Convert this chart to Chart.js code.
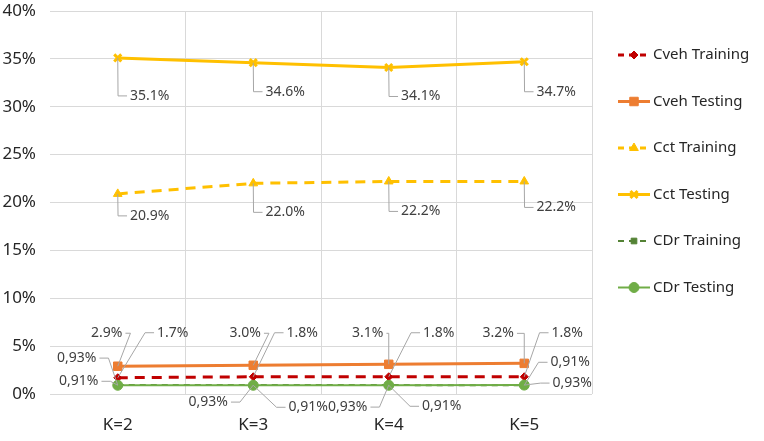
<!DOCTYPE html>
<html>
<head>
<meta charset="utf-8">
<script src="https://cdn.jsdelivr.net/npm/chart.js@4.4.0/dist/chart.umd.min.js"></script>
<style>
  html, body { margin: 0; padding: 0; background: #fff; }
  #wrap { width: 764px; height: 441px; }
</style>
</head>
<body>
<div id="wrap"><canvas id="chart" width="764" height="441"></canvas></div>
<script>
// data
const categories = ["K=2", "K=3", "K=4", "K=5"];
const seriesNames = ["Cveh Training", "Cveh Testing", "Cct Training", "Cct Testing", "CDr Training", "CDr Testing"];
const cvehTraining = [1.7, 1.8, 1.8, 1.8];
const cvehTesting = [2.9, 3.0, 3.1, 3.2];
const cctTraining = [20.9, 22.0, 22.2, 22.2];
const cctTesting = [35.1, 34.6, 34.1, 34.7];
const cdrTraining = [0.93, 0.93, 0.93, 0.91];
const cdrTesting = [0.91, 0.91, 0.91, 0.93];
const yTicks = [0, 5, 10, 15, 20, 25, 30, 35, 40];

const FONT = "'Noto Sans', 'Open Sans', sans-serif";

// where each callout sits relative to its point (px)
const labelOffsets = [
  [[55, -45], [49, -44], [50, -44], [43, -44]],
  [[-11, -33], [-8, -32], [-21, -31], [-26, -30]],
  [[32, 22], [32, 29], [32, 30], [32, 26]],
  [[32, 38], [32, 29], [32, 29], [32, 30]],
  [[-41, -27], [-45, 17], [-41, 22], [46, -23]],
  [[-39, -4], [55, 22], [53, 21], [48, -2]]
];

function fmt(i, v) {
  if (i >= 4) return v.toFixed(2).replace(".", ",") + "%";
  return v.toFixed(1) + "%";
}

// Excel-like data callouts with leader lines
const calloutPlugin = {
  id: "callouts",
  afterDatasetsDraw(chart) {
    const ctx = chart.ctx;
    ctx.save();
    ctx.font = "14px " + FONT;
    ctx.textBaseline = "middle";
    ctx.textAlign = "center";
    chart.data.datasets.forEach((ds, i) => {
      const meta = chart.getDatasetMeta(i);
      meta.data.forEach((p, j) => {
        const [dx, dy] = labelOffsets[i][j];
        const text = fmt(i, ds.data[j]);
        const w = ctx.measureText(text).width;
        const cx = p.x + dx, cy = p.y + dy;
        let ax, ex;
        if (dx > 0) {
          ax = cx - w / 2 - 3;
          ex = Math.max(ax - 9, p.x);
        } else {
          ax = cx + w / 2 + 3;
          ex = dx < -w / 2 - 4 ? Math.min(ax + 9, p.x) : ax + 5;
        }
        ctx.strokeStyle = "#a6a6a6";
        ctx.lineWidth = 1;
        ctx.beginPath();
        ctx.moveTo(ax, cy);
        ctx.lineTo(ex, cy);
        ctx.lineTo(p.x, p.y);
        ctx.stroke();
        ctx.fillStyle = "#404040";
        ctx.fillText(text, cx, cy);
      });
    });
    ctx.restore();
  }
};

// legend on the right: line with marker in the middle
const legendPlugin = {
  id: "sideLegend",
  afterDraw(chart) {
    const ctx = chart.ctx;
    ctx.save();
    chart.data.datasets.forEach((ds, i) => {
      const y = 55 + i * 46.5;
      const x0 = 618, x1 = 650, xm = 634;
      ctx.strokeStyle = ds.borderColor;
      ctx.lineWidth = ds.borderWidth;
      ctx.setLineDash(ds.borderDash ? [6, 5] : []);
      ctx.beginPath();
      ctx.moveTo(x0, y);
      ctx.lineTo(x1, y);
      ctx.stroke();
      ctx.setLineDash([]);
      ctx.fillStyle = ds.pointBackgroundColor;
      ctx.strokeStyle = ds.pointBorderColor;
      ctx.lineWidth = ds.pointBorderWidth;
      Chart.helpers.drawPoint(ctx, {
        pointStyle: ds.pointStyle,
        radius: ds.pointRadius,
        borderWidth: ds.pointBorderWidth
      }, xm, y);
      ctx.fillStyle = "#262626";
      ctx.font = "15px " + FONT;
      ctx.textBaseline = "middle";
      ctx.textAlign = "left";
      ctx.fillText(seriesNames[i], 653, y);
    });
    ctx.restore();
  }
};

function series(i, data, color, opts) {
  return Object.assign({
    label: seriesNames[i],
    data: data,
    borderColor: color,
    backgroundColor: color,
    pointBackgroundColor: color,
    pointBorderColor: color,
    borderWidth: 3,
    pointBorderWidth: 1,
    tension: 0
  }, opts);
}

const datasets = [
  series(0, cvehTraining, "#c00000", { borderDash: [10, 7], pointStyle: "rectRot", pointRadius: 4 }),
  series(1, cvehTesting, "#ed7d31", { pointStyle: "rect", pointRadius: 6 }),
  series(2, cctTraining, "#ffc000", { borderDash: [10, 7], pointStyle: "triangle", pointRadius: 5 }),
  series(3, cctTesting, "#ffc000", { pointStyle: "crossRot", pointRadius: 5, pointBorderWidth: 3 }),
  series(4, cdrTraining, "#548235", { borderDash: [6, 5], borderWidth: 2, pointStyle: "rect", pointRadius: 4 }),
  series(5, cdrTesting, "#70ad47", { borderWidth: 2, pointStyle: "circle", pointRadius: 5, order: -1 })
];

new Chart(document.getElementById("chart"), {
  type: "line",
  data: { labels: categories, datasets: datasets },
  plugins: [calloutPlugin, legendPlugin],
  options: {
    responsive: false,
    animation: false,
    layout: { padding: { top: 11, right: 172, left: 0, bottom: 0 } },
    plugins: {
      legend: { display: false },
      tooltip: { enabled: false }
    },
    scales: {
      x: {
        offset: true,
        grid: {
          offset: true,
          drawTicks: false,
          color: c => (c.index === 0 ? "rgba(0,0,0,0)" : "#d9d9d9")
        },
        border: { display: false },
        ticks: { color: "#262626", padding: 21, font: { size: 17, family: FONT } },
        afterFit: s => { s.height = 47; }
      },
      y: {
        min: 0,
        max: 40,
        afterBuildTicks: s => { s.ticks = yTicks.map(v => ({ value: v })); },
        grid: { color: "#d9d9d9", drawTicks: false },
        border: { display: false },
        ticks: {
          color: "#262626",
          padding: 14,
          font: { size: 17, family: FONT },
          callback: v => v + "%"
        },
        afterFit: s => { s.width = 50; s.paddingTop = 0; s.paddingBottom = 0; }
      }
    }
  }
});
</script>
</body>
</html>
